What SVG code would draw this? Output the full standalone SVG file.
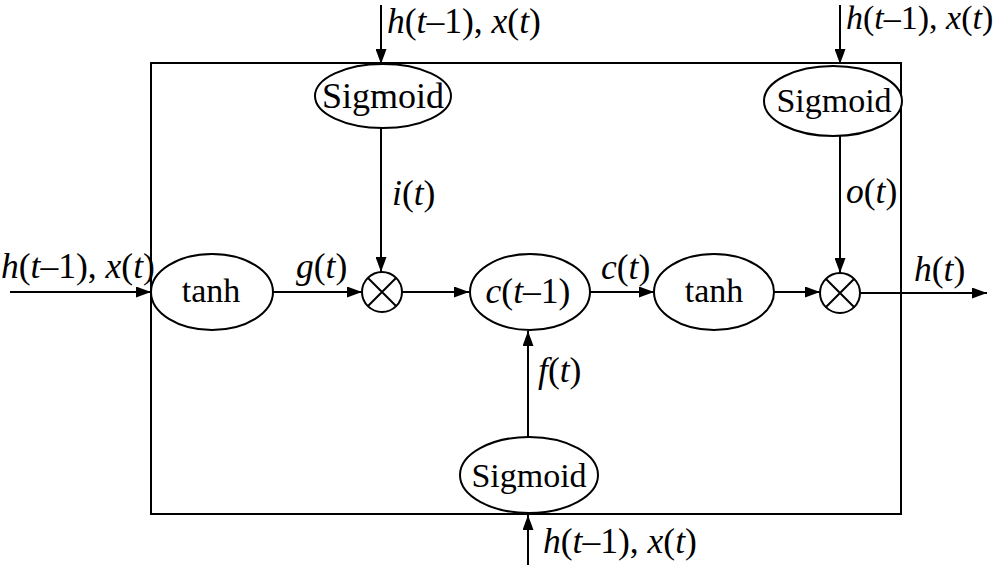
<svg xmlns="http://www.w3.org/2000/svg" width="1000" height="565" viewBox="0 0 1000 565">
<defs>
<marker id="arr" viewBox="0 0 15 11" refX="15" refY="5.5" markerWidth="15" markerHeight="11" markerUnits="userSpaceOnUse" orient="auto">
<path d="M0,0 L15,5.5 L0,11 Z" fill="#000"/>
</marker>
</defs>
<style>
.ln{stroke:#000;stroke-width:2;fill:none}
.nd{stroke:#000;stroke-width:2;fill:#fff}
text{font-family:'Liberation Serif','Times New Roman',Times,serif;font-size:34px;fill:#000}
.lab{font-size:35.5px}
.i{font-style:italic}
</style>
<rect width="1000" height="565" fill="#fff"/>
<g id="cell">
<rect x="151" y="63" width="750" height="451" class="ln"/>
</g>
<g id="connectors">
<line x1="10" y1="292" x2="151" y2="292" class="ln" marker-end="url(#arr)"/>
<line x1="273" y1="292" x2="362" y2="292" class="ln" marker-end="url(#arr)"/>
<line x1="402" y1="292" x2="469" y2="292" class="ln" marker-end="url(#arr)"/>
<line x1="590" y1="292" x2="654" y2="292" class="ln" marker-end="url(#arr)"/>
<line x1="774" y1="292" x2="820" y2="292" class="ln" marker-end="url(#arr)"/>
<line x1="860" y1="293" x2="987" y2="293" class="ln" marker-end="url(#arr)"/>
<line x1="381" y1="5" x2="381" y2="64" class="ln" marker-end="url(#arr)"/>
<line x1="840" y1="5" x2="840" y2="64" class="ln" marker-end="url(#arr)"/>
<line x1="381" y1="127" x2="381" y2="272" class="ln" marker-end="url(#arr)"/>
<line x1="840" y1="135" x2="840" y2="273" class="ln" marker-end="url(#arr)"/>
<line x1="528" y1="437" x2="528" y2="331" class="ln" marker-end="url(#arr)"/>
<line x1="528" y1="565" x2="528" y2="515" class="ln" marker-end="url(#arr)"/>
<text class="lab" x="1" y="278"><tspan class="i">h</tspan>(<tspan class="i">t</tspan>–1), <tspan class="i">x</tspan>(<tspan class="i">t</tspan>)</text>
<text class="lab" x="387" y="33"><tspan class="i">h</tspan>(<tspan class="i">t</tspan>–1), <tspan class="i">x</tspan>(<tspan class="i">t</tspan>)</text>
<text x="846" y="29"><tspan class="i">h</tspan>(<tspan class="i">t</tspan>–1), <tspan class="i">x</tspan>(<tspan class="i">t</tspan>)</text>
<text class="lab" x="543" y="553"><tspan class="i">h</tspan>(<tspan class="i">t</tspan>–1), <tspan class="i">x</tspan>(<tspan class="i">t</tspan>)</text>
<text class="lab" x="296" y="278"><tspan class="i">g</tspan>(<tspan class="i">t</tspan>)</text>
<text class="lab" x="392" y="205"><tspan class="i">i</tspan>(<tspan class="i">t</tspan>)</text>
<text class="lab" x="846" y="203"><tspan class="i">o</tspan>(<tspan class="i">t</tspan>)</text>
<text class="lab" x="601" y="279"><tspan class="i">c</tspan>(<tspan class="i">t</tspan>)</text>
<text class="lab" x="914" y="281"><tspan class="i">h</tspan>(<tspan class="i">t</tspan>)</text>
<text class="lab" x="538" y="382"><tspan class="i">f</tspan>(<tspan class="i">t</tspan>)</text>
</g>
<g id="sigmoid_i">
<ellipse cx="383" cy="96" rx="68" ry="32" class="nd"/>
<text x="383" y="108" text-anchor="middle" style="font-size:36px">Sigmoid</text>
</g>
<g id="sigmoid_o">
<ellipse cx="833" cy="101" rx="69" ry="35" class="nd"/>
<text x="834" y="112" text-anchor="middle">Sigmoid</text>
</g>
<g id="sigmoid_f">
<ellipse cx="529" cy="475" rx="69" ry="38" class="nd"/>
<text x="529" y="487" text-anchor="middle">Sigmoid</text>
</g>
<g id="tanh_g">
<ellipse cx="212" cy="292" rx="61" ry="38" class="nd"/>
<text x="211" y="302" text-anchor="middle">tanh</text>
</g>
<g id="mul_1">
<circle cx="382" cy="292" r="20" class="nd"/>
<path d="M368,278 L396,306 M396,278 L368,306" class="ln"/>
</g>
<g id="cell_state">
<ellipse cx="530" cy="292" rx="60" ry="38" class="nd"/>
<text x="528" y="303" text-anchor="middle" style="font-size:35.5px"><tspan class="i">c</tspan>(<tspan class="i">t</tspan>–1)</text>
</g>
<g id="tanh_c">
<ellipse cx="714" cy="292" rx="60" ry="38" class="nd"/>
<text x="714" y="302" text-anchor="middle">tanh</text>
</g>
<g id="mul_2">
<circle cx="840" cy="293" r="20" class="nd"/>
<path d="M826,279 L854,307 M854,279 L826,307" class="ln"/>
</g>
</svg>
